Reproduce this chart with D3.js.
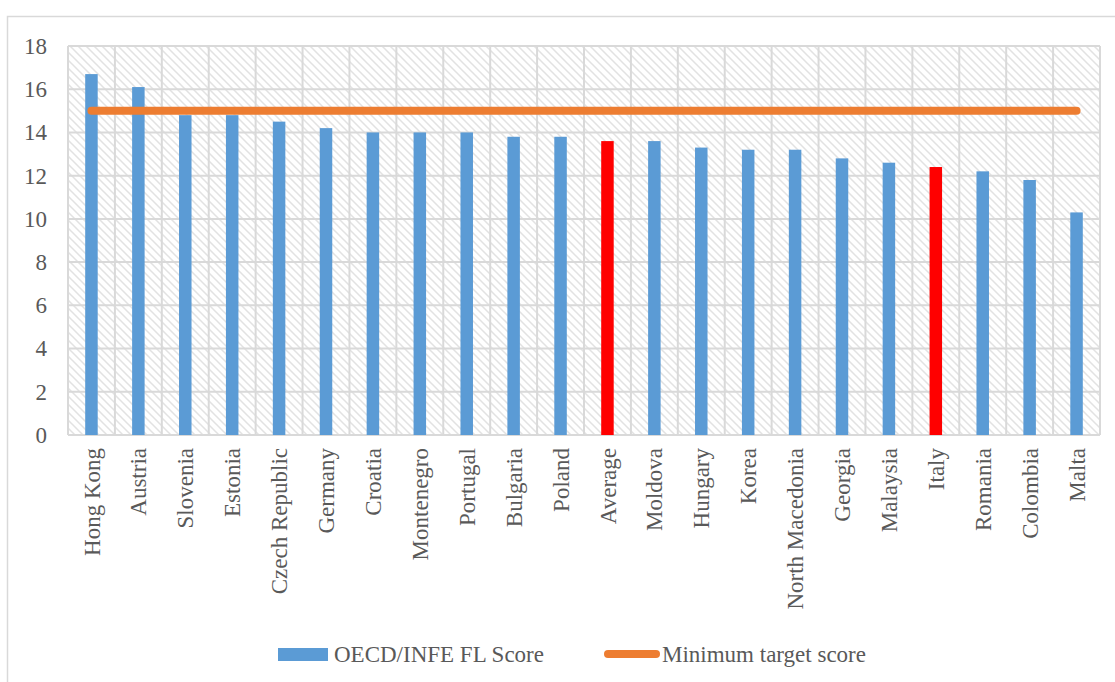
<!DOCTYPE html>
<html>
<head>
<meta charset="utf-8">
<script src="https://cdn.jsdelivr.net/npm/d3@7/dist/d3.min.js"></script>
<style>
  html, body { margin: 0; padding: 0; background: #fff; }
  svg { display: block; }
  text { font-family: "Liberation Serif", "Times New Roman", serif; fill: #595959; }
</style>
</head>
<body>
<svg id="chart" width="1115" height="682"></svg>
<script>
// Financial literacy scores by country
const countries = ["Hong Kong", "Austria", "Slovenia", "Estonia", "Czech Republic", "Germany",
  "Croatia", "Montenegro", "Portugal", "Bulgaria", "Poland", "Average", "Moldova", "Hungary",
  "Korea", "North Macedonia", "Georgia", "Malaysia", "Italy", "Romania", "Colombia", "Malta"];
const scores = [16.7, 16.1, 14.8, 14.8, 14.5, 14.2, 14.0, 14.0, 14.0, 13.8, 13.8, 13.6, 13.6, 13.3,
  13.2, 13.2, 12.8, 12.6, 12.4, 12.2, 11.8, 10.3];
const highlighted = ["Average", "Italy"];
const targetScore = 15;
const yTicks = [0, 2, 4, 6, 8, 10, 12, 14, 16, 18];
const seriesNames = ["OECD/INFE FL Score", "Minimum target score"];

const data = countries.map((c, i) => ({ country: c, score: scores[i] }));

const svg = d3.select("#chart");
const plot = { left: 68, right: 1100, top: 46, bottom: 435 };
const fontSize = 23;

// outer chart frame
svg.append("rect")
  .attr("x", 7.5).attr("y", 16.5)
  .attr("width", 1130).attr("height", 700)
  .attr("fill", "none").attr("stroke", "#d9d9d9").attr("stroke-width", 1.5);

// diagonal hatch fill for the plot area
const defs = svg.append("defs");
const pat = defs.append("pattern")
  .attr("id", "hatch").attr("patternUnits", "userSpaceOnUse")
  .attr("width", 8).attr("height", 8);
pat.append("rect").attr("width", 8).attr("height", 8).attr("fill", "#fff");
pat.append("path")
  .attr("d", "M-2,-2 L10,10 M-2,6 L2,10 M6,-2 L10,2")
  .attr("stroke", "#e2e2e2").attr("stroke-width", 1.5);

const x = d3.scaleBand()
  .domain(countries)
  .range([plot.left, plot.right])
  .paddingInner(0).paddingOuter(0);

const y = d3.scaleLinear()
  .domain([0, 18])
  .range([plot.bottom, plot.top]);

svg.append("rect")
  .attr("x", plot.left).attr("y", plot.top)
  .attr("width", plot.right - plot.left).attr("height", plot.bottom - plot.top)
  .attr("fill", "url(#hatch)");

// horizontal gridlines
svg.append("g").selectAll("line")
  .data(yTicks).join("line")
  .attr("x1", plot.left).attr("x2", plot.right)
  .attr("y1", d => y(d)).attr("y2", d => y(d))
  .attr("stroke", "#d9d9d9").attr("stroke-width", 2);

// vertical gridlines at category boundaries
const bounds = countries.map(c => x(c)).concat([x.range()[1]]);
svg.append("g").selectAll("line")
  .data(bounds).join("line")
  .attr("x1", d => d).attr("x2", d => d)
  .attr("y1", plot.top).attr("y2", plot.bottom)
  .attr("stroke", "#d9d9d9").attr("stroke-width", 2);

// y axis labels
const yAxis = svg.append("g")
  .attr("transform", `translate(${plot.left},0)`)
  .call(d3.axisLeft(y).tickValues(yTicks).tickSize(0).tickPadding(21));
yAxis.select(".domain").remove();
yAxis.selectAll("text")
  .attr("font-size", fontSize)
  .attr("fill", "#595959");

// bars
const barW = 12.5;
svg.append("g").selectAll("rect")
  .data(data).join("rect")
  .attr("x", d => x(d.country) + x.bandwidth() / 2 - barW / 2)
  .attr("width", barW)
  .attr("y", d => y(d.score))
  .attr("height", d => y(0) - y(d.score))
  .attr("fill", d => highlighted.includes(d.country) ? "#ff0000" : "#5b9bd5");

// target line across categories
const line = d3.line()
  .x(d => x(d) + x.bandwidth() / 2)
  .y(() => y(targetScore));
svg.append("path")
  .datum(countries)
  .attr("d", line)
  .attr("fill", "none")
  .attr("stroke", "#ed7d31")
  .attr("stroke-width", 8)
  .attr("stroke-linecap", "round");

// x axis category labels, rotated
const xAxis = svg.append("g")
  .attr("transform", `translate(0,${plot.bottom})`)
  .call(d3.axisBottom(x).tickSize(0).tickPadding(0));
xAxis.select(".domain").remove();
xAxis.selectAll("text")
  .attr("font-size", fontSize)
  .attr("fill", "#595959")
  .attr("transform", "rotate(-90)")
  .attr("text-anchor", "end")
  .attr("x", -13)
  .attr("y", 0)
  .attr("dy", "0.35em");

// legend
const legend = svg.append("g");
legend.append("rect")
  .attr("x", 278).attr("y", 648).attr("width", 50).attr("height", 13)
  .attr("fill", "#5b9bd5");
legend.append("text")
  .attr("x", 334).attr("y", 662)
  .attr("font-size", fontSize)
  .text(seriesNames[0]);
legend.append("line")
  .attr("x1", 608).attr("x2", 656).attr("y1", 654).attr("y2", 654)
  .attr("stroke", "#ed7d31").attr("stroke-width", 8).attr("stroke-linecap", "round");
legend.append("text")
  .attr("x", 662).attr("y", 662)
  .attr("font-size", fontSize)
  .text(seriesNames[1]);
</script>
</body>
</html>
